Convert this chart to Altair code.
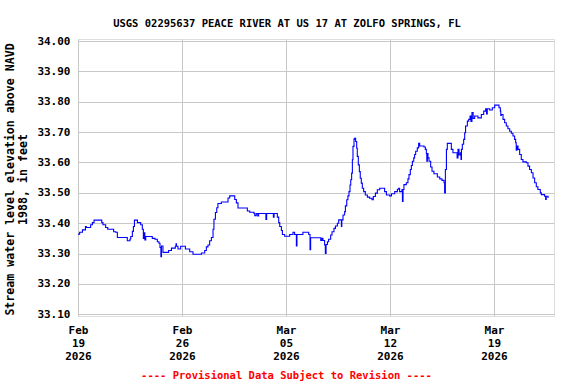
import altair as alt
import pandas as pd

# Day offsets from 2026-02-19 00:00 (local) and gage height values (ft above NAVD 1988)
days = [
    0.00, 0.11, 0.30, 0.50, 0.56, 0.85, 0.97, 1.08, 1.60, 1.68, 1.86, 2.00, 2.31, 2.40, 2.54, 2.65,
    3.32, 3.50, 3.55, 3.66, 3.73, 3.80, 3.93, 4.00, 4.22, 4.33, 4.40, 4.44, 4.50, 4.56, 4.78, 5.00,
    5.18, 5.34, 5.45, 5.52, 5.58, 5.62, 5.72, 6.02, 6.10, 6.29, 6.55, 6.60, 6.63, 6.73, 6.91, 7.18,
    7.23, 7.52, 7.74, 8.31, 8.53, 8.64, 8.75, 8.86, 8.98, 9.09, 9.15, 9.25, 9.34, 9.42, 9.65, 9.99,
    10.10, 10.21, 10.43, 10.55, 10.66, 10.77, 11.33, 11.40, 11.56, 11.85, 11.90, 12.00, 12.10, 12.16,
    12.60, 12.65, 12.70, 13.10, 13.15, 13.20, 13.35, 13.42, 13.51, 13.58, 13.69, 13.76, 13.91, 14.13,
    14.25, 14.47, 14.58, 14.70, 14.74, 15.04, 15.14, 15.44, 15.53, 15.62, 15.66, 15.71, 16.27, 16.34,
    16.42, 16.49, 16.60, 16.65, 16.70, 16.79, 16.87, 17.01, 17.10, 17.23, 17.33, 17.46, 17.55, 17.70,
    17.73, 17.76, 17.84, 17.95, 18.00, 18.09, 18.17, 18.24, 18.31, 18.36, 18.42, 18.47, 18.51, 18.58,
    18.62, 18.69, 18.76, 18.80, 18.87, 18.94, 19.00, 19.07, 19.14, 19.23, 19.34, 19.48, 19.63, 19.79,
    19.88, 20.02, 20.15, 20.31, 20.53, 20.64, 20.76, 20.98, 21.10, 21.32, 21.50, 21.59, 21.65, 21.81,
    21.84, 21.88, 21.94, 22.10, 22.21, 22.28, 22.37, 22.44, 22.51, 22.60, 22.66, 22.73, 22.84, 22.93,
    23.00, 23.29, 23.38, 23.45, 23.48, 23.52, 23.56, 23.63, 23.74, 23.83, 23.96, 24.06, 24.19, 24.35,
    24.50, 24.64, 24.68, 24.73, 24.80, 24.86, 25.02, 25.13, 25.24, 25.47, 25.52, 25.58, 25.65, 25.74,
    25.78, 25.81, 25.87, 25.96, 26.03, 26.09, 26.21, 26.30, 26.39, 26.45, 26.52, 26.60, 26.70, 26.92,
    27.15, 27.31, 27.44, 27.50, 27.55, 27.71, 27.89, 28.05, 28.27, 28.34, 28.43, 28.46, 28.50, 28.61,
    28.72, 28.83, 28.94, 29.06, 29.17, 29.28, 29.39, 29.46, 29.50, 29.55, 29.62, 29.73, 29.84, 29.95,
    30.18, 30.29, 30.40, 30.52, 30.63, 30.74, 30.85, 30.96, 31.12, 31.19, 31.41, 31.48, 31.52, 31.64,
]
levels = [
    33.364, 33.370, 33.378, 33.389, 33.386, 33.395, 33.402, 33.410, 33.402, 33.395, 33.386, 33.380, 33.380, 33.372, 33.370, 33.353,
    33.342, 33.348, 33.356, 33.373, 33.389, 33.410, 33.410, 33.402, 33.395, 33.380, 33.350, 33.368, 33.345, 33.356, 33.356, 33.350,
    33.347, 33.339, 33.334, 33.320, 33.290, 33.325, 33.304, 33.304, 33.310, 33.318, 33.324, 33.332, 33.324, 33.315, 33.324, 33.324,
    33.315, 33.306, 33.298, 33.302, 33.310, 33.322, 33.328, 33.342, 33.353, 33.380, 33.413, 33.435, 33.451, 33.465, 33.470, 33.470,
    33.483, 33.490, 33.490, 33.478, 33.467, 33.450, 33.450, 33.440, 33.436, 33.432, 33.425, 33.432, 33.424, 33.432,
    33.432, 33.412, 33.432, 33.432, 33.420, 33.432, 33.432, 33.420, 33.402, 33.389, 33.376, 33.363, 33.357, 33.357,
    33.363, 33.370, 33.363, 33.325, 33.363, 33.363, 33.370, 33.370, 33.363, 33.313, 33.352, 33.352, 33.352, 33.343,
    33.350, 33.343, 33.328, 33.300, 33.330, 33.339, 33.347, 33.361, 33.372, 33.383, 33.391, 33.400, 33.411, 33.411,
    33.389, 33.411, 33.427, 33.438, 33.457, 33.477, 33.490, 33.504, 33.526, 33.543, 33.565, 33.609, 33.653, 33.677,
    33.680, 33.669, 33.647, 33.620, 33.592, 33.570, 33.548, 33.532, 33.515, 33.504, 33.493, 33.486, 33.482, 33.477,
    33.488, 33.499, 33.510, 33.515, 33.515, 33.504, 33.493, 33.490, 33.497, 33.504, 33.512, 33.515, 33.504, 33.511,
    33.472, 33.511, 33.527, 33.533, 33.546, 33.560, 33.577, 33.590, 33.604, 33.615, 33.626, 33.637, 33.648, 33.663,
    33.654, 33.651, 33.643, 33.629, 33.604, 33.629, 33.615, 33.604, 33.585, 33.571, 33.563, 33.563, 33.552, 33.546,
    33.541, 33.533, 33.500, 33.577, 33.643, 33.663, 33.663, 33.643, 33.632, 33.632, 33.615, 33.643, 33.625, 33.632,
    33.610, 33.643, 33.660, 33.676, 33.698, 33.720, 33.736, 33.742, 33.753, 33.735, 33.764, 33.745, 33.753, 33.747,
    33.758, 33.769, 33.777, 33.760, 33.777, 33.773, 33.780, 33.789, 33.789, 33.780, 33.769, 33.755, 33.758, 33.742,
    33.731, 33.720, 33.711, 33.703, 33.696, 33.687, 33.676, 33.665, 33.640, 33.654, 33.643, 33.626, 33.610, 33.602,
    33.599, 33.588, 33.577, 33.566, 33.549, 33.533, 33.520, 33.511, 33.500, 33.494, 33.489, 33.478, 33.489, 33.483,
]

y_ticks = [33.10, 33.20, 33.30, 33.40, 33.50, 33.60, 33.70, 33.80, 33.90, 34.00]
x_tick_dates = [(2026, 2, 19), (2026, 2, 26), (2026, 3, 5), (2026, 3, 12), (2026, 3, 19)]

title_text = "USGS 02295637 PEACE RIVER AT US 17 AT ZOLFO SPRINGS, FL"
y_title = ["Stream water level elevation above NAVD", "1988, in feet"]
footer = "---- Provisional Data Subject to Revision ----"

base = pd.Timestamp("2026-02-19")
times = [(base + pd.Timedelta(days=d)).strftime("%Y-%m-%dT%H:%M") for d in days]
df = pd.DataFrame({"time": times, "level": levels})

FONT = "DejaVu Sans Mono"

line = alt.Chart(df).mark_line(
    color="#0000ff", strokeWidth=1.1, interpolate="step-after", clip=True
).encode(
    x=alt.X(
        "time:T",
        scale=alt.Scale(domain=["2026-02-19T00:00", "2026-03-23T01:00"]),
        axis=alt.Axis(
            values=[alt.DateTime(year=y, month=m, date=d) for (y, m, d) in x_tick_dates],
            labelExpr="[timeFormat(datum.value, '%b'), timeFormat(datum.value, '%d'), timeFormat(datum.value, '%Y')]",
            labelLineHeight=13,
            labelFont=FONT, labelFontSize=11, labelFontWeight="bold", labelColor="black",
            labelFlush=False, labelOverlap=False, labelPadding=8,
            ticks=False, domain=False,
            grid=True, gridColor="#c8c8c8", gridWidth=1,
            title=footer, titleFont=FONT, titleFontSize=10.5, titleFontWeight="bold",
            titleColor="#ff0000", titleX=208, titleY=62.5, titleBaseline="alphabetic",
            titleAlign="center",
        ),
    ),
    y=alt.Y(
        "level:Q",
        scale=alt.Scale(domain=[33.0944, 34.0066], nice=False, zero=False),
        axis=alt.Axis(
            values=y_ticks, format=".2f",
            labelFont=FONT, labelFontSize=11, labelFontWeight="bold", labelColor="black",
            labelPadding=8, ticks=False, domain=False,
            grid=True, gridColor="#c8c8c8", gridWidth=1,
            title=y_title, titleFont=FONT, titleFontSize=11.6, titleFontWeight="bold",
            titleColor="black", titleAngle=270, titleX=-67.5, titleY=140,
            titleBaseline="middle", titleAlign="center", titleLineHeight=13,
        ),
    ),
).properties(
    width=476, height=277,
    title=alt.TitleParams(
        title_text, font=FONT, fontSize=10.5, fontWeight="bold", color="black",
        anchor="middle", dx=-29, dy=16, offset=14, baseline="alphabetic",
    ),
    autosize=alt.AutoSizeParams(type="none"),
    padding={"left": 78, "top": 39, "right": 22, "bottom": 68},
).configure_view(
    stroke="black", strokeWidth=2
).configure(background="white")

line.save("out.html", embed_options={"renderer": "svg", "actions": False})
